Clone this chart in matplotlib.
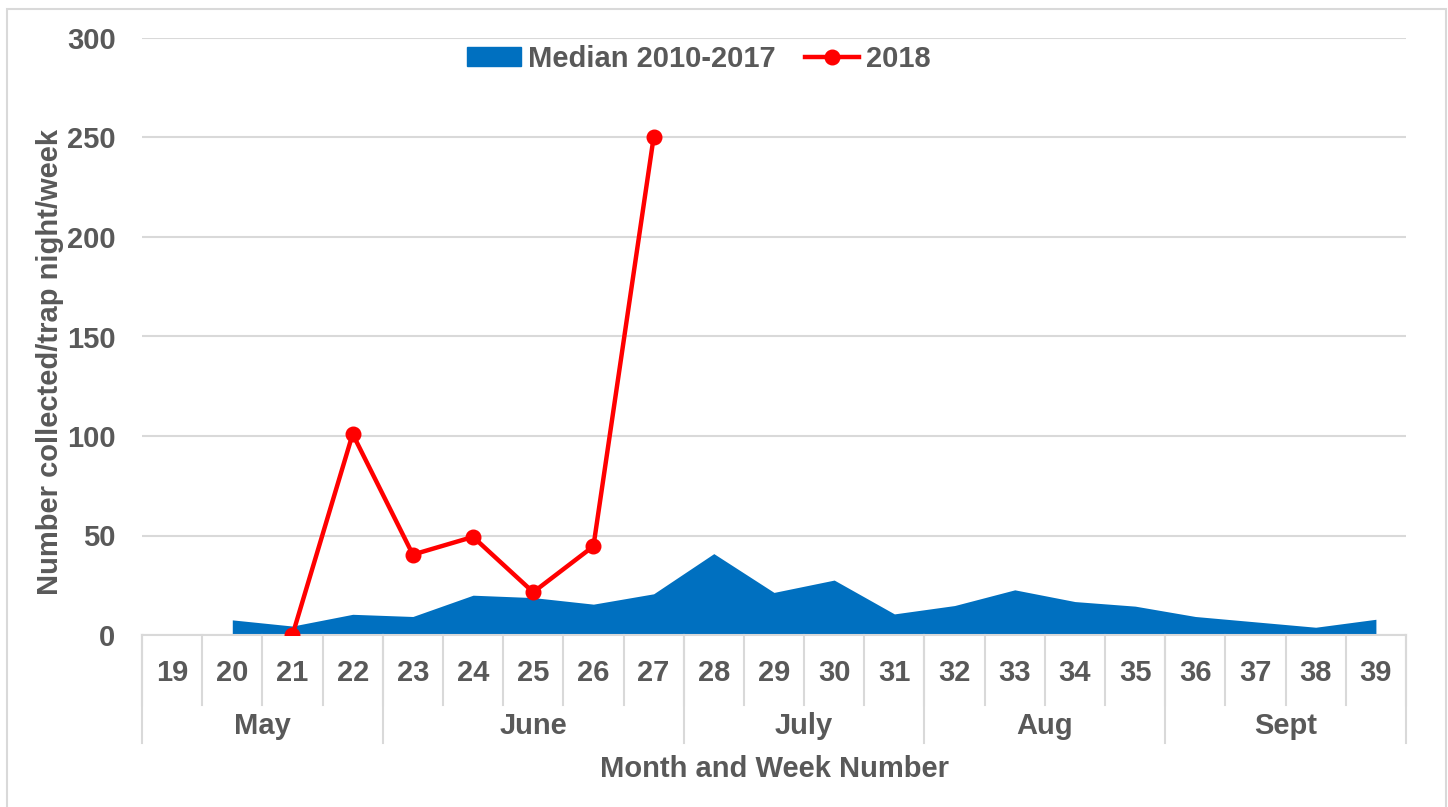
import numpy as np
import matplotlib
matplotlib.use("Agg")
import matplotlib.pyplot as plt
from matplotlib.patches import Rectangle
from matplotlib.lines import Line2D
import matplotlib.transforms as mtransforms

plt.rcParams["font.family"] = ["Liberation Sans", "DejaVu Sans"]
plt.rcParams["font.weight"] = "bold"

# ── Data ───────────────────────────────────────────────────────────────────
weeks = list(range(19, 40))
months = ["May", "June", "July", "Aug", "Sept"]
month_spans = [4, 5, 4, 4, 4]          # weeks per month group

median_weeks = list(range(20, 40))
median_vals = [7.6, 4.5, 10.4, 9.3, 20.0, 18.8, 15.5, 20.7, 40.9, 21.4,
               27.6, 10.6, 14.8, 22.7, 16.8, 14.5, 9.3, 6.6, 3.9, 7.9]

y2018_weeks = [21, 22, 23, 24, 25, 26, 27]
y2018_vals = [0, 101, 40.4, 49.3, 21.5, 44.6, 250]

TEXT = "#595959"
GRID = "#d9d9d9"
BLUE = "#0070c0"
RED = "#ff0000"
FS = 21

# ── Chart ──────────────────────────────────────────────────────────────────
fig = plt.figure(figsize=(14.48, 8.07), dpi=100, facecolor="white")
ax = fig.add_axes([142 / 1448, 1 - 635 / 807, (1406 - 142) / 1448, (635 - 38) / 807])

pos = {w: i for i, w in enumerate(weeks)}
mx = [pos[w] for w in median_weeks]
rx = [pos[w] for w in y2018_weeks]

ax.fill_between(mx, 0, median_vals, color=BLUE, linewidth=0, zorder=2)
ax.plot(rx, y2018_vals, color=RED, lw=3.2, marker="o", ms=10.5, zorder=3)

ax.set_xlim(-0.5, len(weeks) - 0.5)
ax.set_ylim(0, 300)
ax.set_yticks(np.arange(0, 301, 50))
ax.yaxis.grid(True, color=GRID, lw=1.5)
ax.set_axisbelow(True)
for s in ["top", "right", "left"]:
    ax.spines[s].set_visible(False)
ax.spines["bottom"].set_color(GRID)
ax.spines["bottom"].set_linewidth(1.5)
ax.tick_params(axis="y", length=0, pad=19, labelsize=FS, labelcolor=TEXT)
ax.set_xticks([])

# category axis: week row + month row
trans = mtransforms.blended_transform_factory(ax.transData, ax.transAxes)
week_bottom = -70 / 597
month_bottom = -108 / 597
for i, w in enumerate(weeks):
    ax.text(i, -38 / 597, str(w), transform=trans, ha="center", va="center",
            fontsize=FS, color=TEXT)
for i in range(len(weeks) + 1):
    ax.plot([i - 0.5, i - 0.5], [0, week_bottom], transform=trans, color=GRID,
            lw=1.5, clip_on=False)
edge = -0.5
bounds = [edge]
for m, span in zip(months, month_spans):
    ax.text(edge + span / 2, -91 / 597, m, transform=trans, ha="center",
            va="center", fontsize=FS, color=TEXT)
    edge += span
    bounds.append(edge)
for b in bounds:
    ax.plot([b, b], [0, month_bottom], transform=trans, color=GRID, lw=1.5,
            clip_on=False)

ax.text(0.5, -134 / 597, "Month and Week Number", transform=ax.transAxes,
        ha="center", va="center", fontsize=FS, color=TEXT)
fig.text(50 / 1448, 1 - 362 / 807, "Number collected/trap night/week",
         rotation=90, ha="center", va="center", fontsize=FS, color=TEXT)

handles = [Rectangle((0, 0), 1, 1, color=BLUE),
           Line2D([], [], color=RED, lw=3.2, marker="o", ms=10.5)]
ax.legend(handles, ["Median 2010-2017", "2018"], loc="center",
          bbox_to_anchor=((699 - 142) / 1264, (635 - 59) / 597), ncol=2,
          frameon=False, fontsize=FS, labelcolor=TEXT, handlelength=1.85,
          handletextpad=0.25, columnspacing=1.0, handleheight=0.6)

# outer chart border
fig.patches.append(Rectangle((7 / 1448, -0.05), (1446 - 7) / 1448, 1.05 - 9 / 807,
                             transform=fig.transFigure, fill=False,
                             edgecolor=GRID, lw=1.5))

fig.savefig("out.png", dpi=100, facecolor="white")
